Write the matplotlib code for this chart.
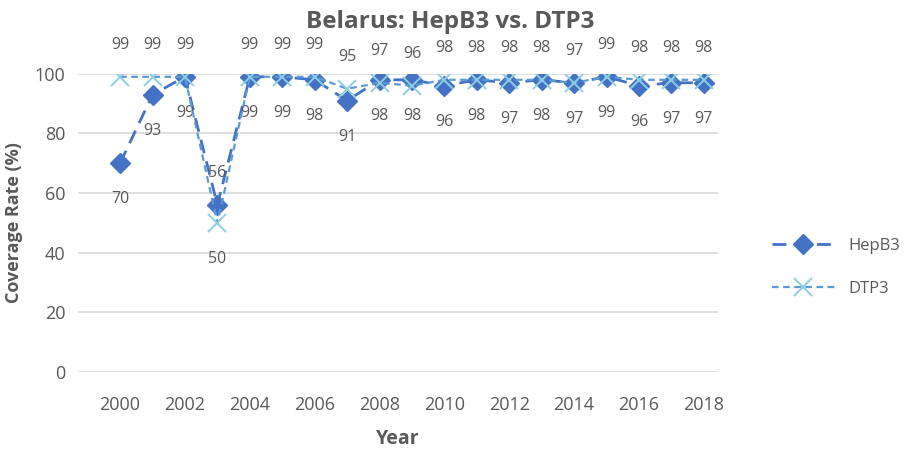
import matplotlib.pyplot as plt

years = list(range(2000, 2019))
hepb3 = [70, 93, 99, 56, 99, 99, 98, 91, 98, 98, 96, 98, 97, 98, 97, 99, 96, 97, 97]
dtp3 = [99, 99, 99, 50, 99, 99, 99, 95, 97, 96, 98, 98, 98, 98, 97, 99, 98, 98, 98]
xticks = list(range(2000, 2019, 2))
yticks = [0, 20, 40, 60, 80, 100]

grey = '#595959'
plt.rcParams['font.family'] = ['Open Sans', 'DejaVu Sans']

fig = plt.figure(figsize=(9.06, 4.53), dpi=100)
ax = fig.add_axes([0.086, 0.179, 0.707, 0.658])

ax.plot(years, hepb3, color='#4472C4', linestyle=(0, (5, 3)), linewidth=2,
        marker='D', markersize=10, label='HepB3', zorder=3)
ax.plot(years, dtp3, color='#5B9BD5', linestyle=(0, (3, 2)), linewidth=1.6,
        marker='x', markersize=13, markeredgewidth=1.4, markeredgecolor='#8CCFE4',
        label='DTP3', zorder=4)

# data labels: HepB3 below, DTP3 above (swapped at the 2003 dip)
for i, yr in enumerate(years):
    h_off = -26 if yr != 2003 else 23
    d_off = 23 if yr != 2003 else -26
    ax.annotate(str(hepb3[i]), (yr, hepb3[i]), xytext=(0, h_off), textcoords='offset points',
                ha='center', va='center', fontsize=11.5, color=grey, annotation_clip=False)
    ax.annotate(str(dtp3[i]), (yr, dtp3[i]), xytext=(0, d_off), textcoords='offset points',
                ha='center', va='center', fontsize=11.5, color=grey, annotation_clip=False)

ax.set_xlim(1998.7, 2018.45)
ax.set_ylim(0, 100)
ax.set_xticks(xticks)
ax.set_yticks(yticks)
ax.tick_params(length=0, labelsize=13, labelcolor=grey)
ax.tick_params(axis='x', pad=17)
ax.tick_params(axis='y', pad=9)
ax.grid(axis='y', color='#D9D9D9', linewidth=1.2)
ax.set_axisbelow(True)
for s in ax.spines.values():
    s.set_visible(False)

ax.set_xlabel('Year', fontsize=14, fontweight='bold', color=grey, va='center')
ax.xaxis.set_label_coords(0.5, -0.225)
ax.set_ylabel('Coverage Rate (%)', fontsize=13, fontweight='bold', color=grey)
ax.yaxis.set_label_coords(-0.085, 0.5)
fig.text(0.497, 0.952, 'Belarus: HepB3 vs. DTP3', ha='center', va='center',
         fontsize=17.5, fontweight='bold', color=grey)

fig.legend(loc='center left', bbox_to_anchor=(0.835, 0.41), frameon=False,
           fontsize=12, labelcolor=grey, handlelength=3.8, labelspacing=1.6)

fig.savefig('out.png', dpi=100)
